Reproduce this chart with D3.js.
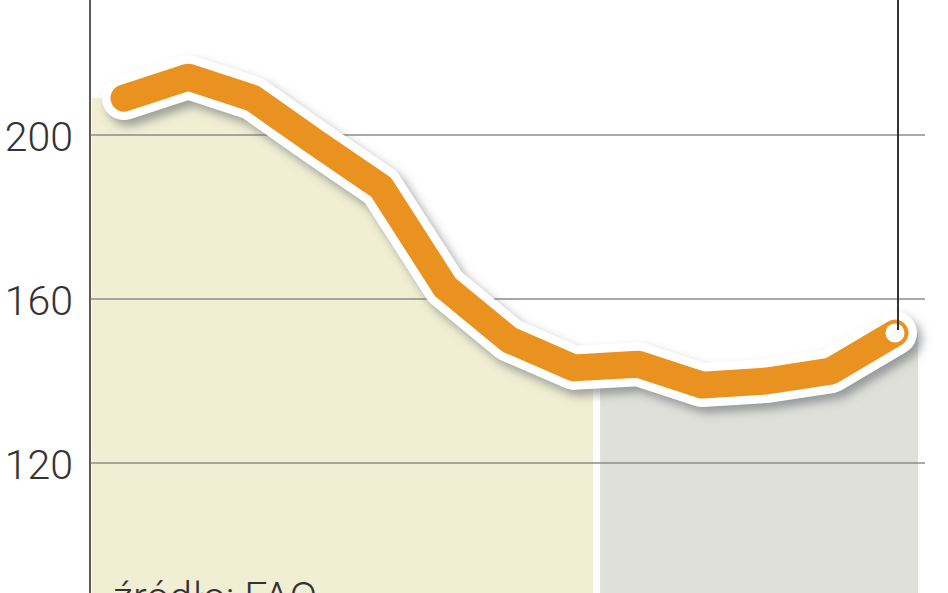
<!DOCTYPE html>
<html>
<head>
<meta charset="utf-8">
<script src="https://cdn.jsdelivr.net/npm/d3@7"></script>
<style>
  html, body { margin: 0; padding: 0; background: #ffffff; }
  svg { display: block; }
</style>
</head>
<body>
<svg id="chart" width="948" height="593"></svg>
<script>
// ---- data ----
const periods = ["1", "2", "3", "4", "5", "6", "7", "8", "9", "10", "11", "12", "13"];
const values  = [209.0, 214.1, 209.0, 198.0, 187.3, 162.9, 150.0, 143.2, 144.1, 139.0, 140.0, 142.4, 151.7];
const yTicks  = [120, 160, 200];
const yTickLabels = ["120", "160", "200"];
const sourceText = "źródło: FAO";
// shaded periods, in index units along the x axis
const period1 = [-0.5, 7.30];
const period2 = [7.41, 12.36];

// ---- layout ----
const W = 948, H = 593;
const svg = d3.select("#chart");

const x = d3.scaleLinear().domain([0, periods.length - 1]).range([124, 895]);
const y = d3.scaleLinear().domain([120, 200]).range([463, 135]);

function valueAt(t) {
  const n = values.length;
  if (t <= 0) return values[0];
  if (t >= n - 1) return values[n - 1];
  const i = Math.floor(t), f = t - i;
  return values[i] * (1 - f) + values[i + 1] * f;
}
function areaPoints(range) {
  const pts = [[range[0], valueAt(range[0])]];
  values.forEach((v, i) => { if (i > range[0] && i < range[1]) pts.push([i, v]); });
  pts.push([range[1], valueAt(range[1])]);
  return pts;
}

const defs = svg.append("defs");
const f = defs.append("filter").attr("id", "shadow")
  .attr("x", "-10%").attr("y", "-30%").attr("width", "130%").attr("height", "170%");
f.append("feGaussianBlur").attr("in", "SourceAlpha").attr("stdDeviation", 5).attr("result", "b");
f.append("feOffset").attr("in", "b").attr("dx", 5).attr("dy", 6).attr("result", "o");
f.append("feFlood").attr("flood-color", "#5a5f66").attr("flood-opacity", 0.55).attr("result", "c");
f.append("feComposite").attr("in", "c").attr("in2", "o").attr("operator", "in");

const area = d3.area()
  .x(d => x(d[0]))
  .y0(H + 10)
  .y1(d => y(d[1]));

svg.append("path").datum(areaPoints(period1))
  .attr("d", area).attr("fill", "#f0efd3");
svg.append("path").datum(areaPoints(period2))
  .attr("d", area).attr("fill", "#e0e0da");

// gridlines
svg.append("g").selectAll("line").data(yTicks).join("line")
  .attr("x1", 90).attr("x2", 925)
  .attr("y1", d => y(d)).attr("y2", d => y(d))
  .attr("stroke", "#8c8c8c").attr("stroke-width", 1.6);

// left axis line
svg.append("line").attr("x1", 90).attr("x2", 90).attr("y1", 0).attr("y2", H)
  .attr("stroke", "#5a5a5a").attr("stroke-width", 2);

// y labels
svg.append("g").selectAll("text").data(yTicks).join("text")
  .attr("x", 73).attr("y", d => y(d) + 2)
  .attr("text-anchor", "end").attr("dominant-baseline", "central")
  .attr("font-family", "Roboto, 'Open Sans', sans-serif")
  .attr("font-weight", 300).attr("font-size", 41).attr("fill", "#333")
  .text((d, i) => yTickLabels[i]);

// source
svg.append("text").attr("x", 113).attr("y", 611)
  .attr("font-family", "Roboto, 'Open Sans', sans-serif")
  .attr("font-weight", 300).attr("font-size", 41).attr("fill", "#333")
  .text(sourceText);

// line
const line = d3.line().x((d, i) => x(i)).y(d => y(d));
const lineG = svg.append("g");
lineG.append("path").datum(values).attr("d", line)
  .attr("fill", "none").attr("stroke", "#000").attr("stroke-width", 44)
  .attr("stroke-linejoin", "round").attr("stroke-linecap", "round")
  .attr("filter", "url(#shadow)");
lineG.append("path").datum(values).attr("d", line)
  .attr("fill", "none").attr("stroke", "#ffffff").attr("stroke-width", 44)
  .attr("stroke-linejoin", "round").attr("stroke-linecap", "round");
lineG.append("path").datum(values).attr("d", line)
  .attr("fill", "none").attr("stroke", "#ea9220").attr("stroke-width", 27)
  .attr("stroke-linejoin", "round").attr("stroke-linecap", "round");

// end marker + leader
const last = values.length - 1;
svg.append("circle").attr("cx", x(last)).attr("cy", y(values[last])).attr("r", 9.5)
  .attr("fill", "#ffffff");
svg.append("line").attr("x1", x(last) + 3).attr("x2", x(last) + 3)
  .attr("y1", 0).attr("y2", y(values[last]) - 3)
  .attr("stroke", "#333").attr("stroke-width", 2);
</script>
</body>
</html>
